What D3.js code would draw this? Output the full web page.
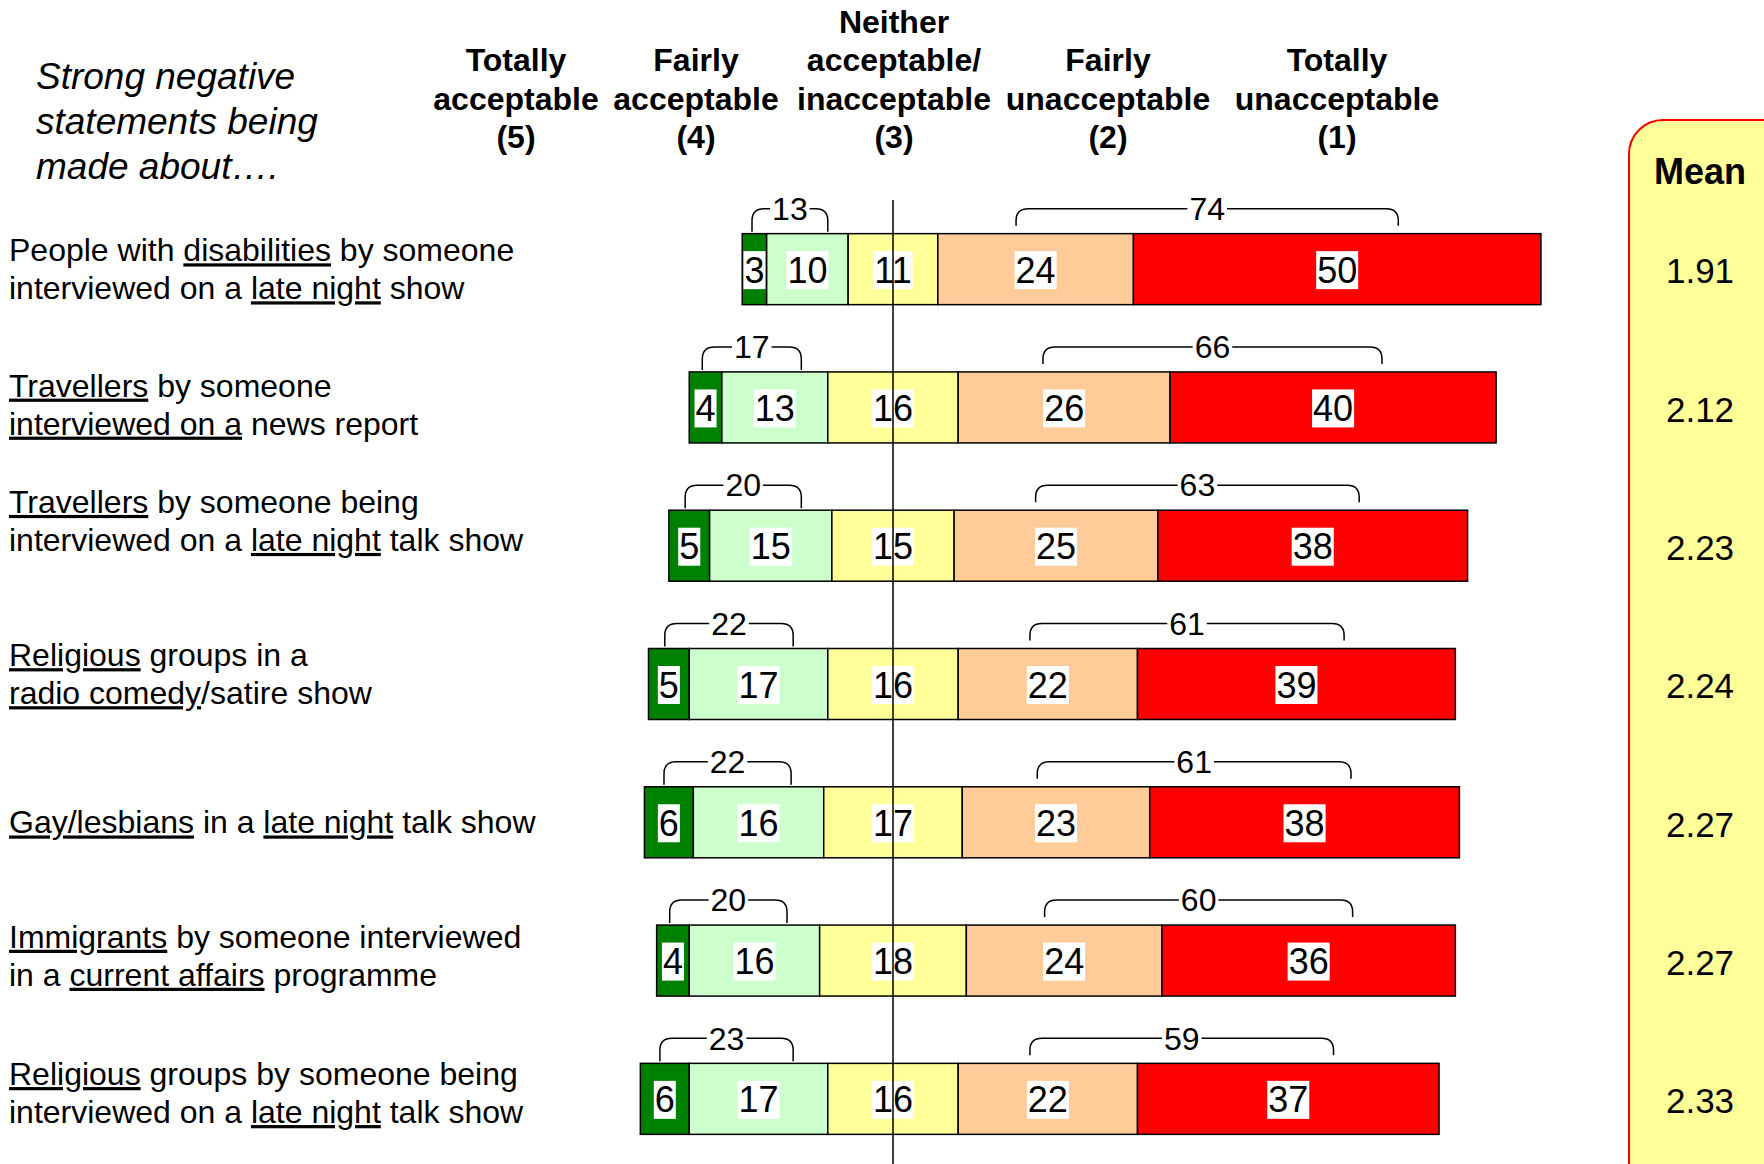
<!DOCTYPE html>
<html>
  <head>
    <meta charset="utf-8">
    <script type="text/javascript" src="https://d3js.org/d3.v7.min.js"></script>
    <title></title>
  </head>
  <style media="screen">
    body { margin: 0; background: #fff; }
    text { font-family: Arial, "Liberation Sans", sans-serif; fill: #000; }
  </style>
  <body>

    <script type="text/javascript">

    // row labels, two lines each, _word_ = underlined
    var categories = [
      ["People with _disabilities_ by someone", "interviewed on a _late night_ show"],
      ["_Travellers_ by someone", "_interviewed on a_ news report"],
      ["_Travellers_ by someone being", "interviewed on a _late night_ talk show"],
      ["_Religious_ groups in a", "_radio comedy_/satire show"],
      ["_Gay/lesbians_ in a _late night_ talk show"],
      ["_Immigrants_ by someone interviewed", "in a _current affairs_ programme"],
      ["_Religious_ groups by someone being", "interviewed on a _late night_ talk show"]
    ];

    var totallyAcc   = [3, 4, 5, 5, 6, 4, 6];
    var fairlyAcc    = [10, 13, 15, 17, 16, 16, 17];
    var neither      = [11, 16, 15, 16, 17, 18, 16];
    var fairlyUnacc  = [24, 26, 25, 22, 23, 24, 22];
    var totallyUnacc = [50, 40, 38, 39, 38, 36, 37];

    var netAcc   = [13, 17, 20, 22, 22, 20, 23];
    var netUnacc = [74, 66, 63, 61, 61, 60, 59];
    var means    = ["1.91", "2.12", "2.23", "2.24", "2.27", "2.27", "2.33"];

    var headers = [
      ["Totally", "acceptable", "(5)"],
      ["Fairly", "acceptable", "(4)"],
      ["Neither", "acceptable/", "inacceptable", "(3)"],
      ["Fairly", "unacceptable", "(2)"],
      ["Totally", "unacceptable", "(1)"]
    ];
    var intro = ["Strong negative", "statements being", "made about…."];

    var colors = ["#008000", "#ccffcc", "#ffff99", "#ffcc99", "#ff0000"];

    var W = 1764, H = 1164;
    var headerX = [516, 696, 894, 1108, 1337];
    // labels were nudged by hand in the original
    var labelShift = [0, -3, -25, -10, 0, -5, -6];
    var barH = 71;

    var svg = d3.select("body").append("svg")
        .attr("width", W)
        .attr("height", H);

    var x = d3.scaleLinear().domain([-50, 50]).range([485.5, 1300.5]);
    var y = d3.scaleBand().domain(d3.range(categories.length)).range([200, 1168]);

    // mean panel
    svg.append("rect")
        .attr("x", 1629).attr("y", 120)
        .attr("width", 200).attr("height", 1100)
        .attr("rx", 34)
        .attr("fill", "#ffff99")
        .attr("stroke", "#ff0000")
        .attr("stroke-width", 2);

    svg.append("text")
        .attr("x", 1700).attr("y", 171).attr("dy", "0.35em")
        .attr("text-anchor", "middle")
        .style("font-size", "36px").style("font-weight", "bold")
        .text("Mean");

    // intro text
    svg.append("g").selectAll("text")
      .data(intro).enter().append("text")
        .attr("x", 36)
        .attr("y", function(d, i) { return 76 + i * 45; })
        .attr("dy", "0.35em")
        .style("font-size", "37px").style("font-style", "italic")
        .text(function(d) { return d; });

    // column headers, bottom aligned
    headers.forEach(function(lines, j) {
      var n = lines.length;
      svg.append("g").selectAll("text")
        .data(lines).enter().append("text")
          .attr("x", headerX[j])
          .attr("y", function(d, i) { return 137 - (n - 1 - i) * 38.5; })
          .attr("dy", "0.35em")
          .attr("text-anchor", "middle")
          .style("font-size", "32px").style("font-weight", "bold")
          .text(function(d) { return d; });
    });

    // build rows
    var rows = categories.map(function(c, i) {
      var vals = [totallyAcc[i], fairlyAcc[i], neither[i], fairlyUnacc[i], totallyUnacc[i]];
      var offset = vals[0] + vals[1] + vals[2] / 2;
      var acc = -offset;
      var segs = vals.map(function(v, k) {
        var s = {x0: acc, x1: acc + v, v: v, k: k};
        acc += v;
        return s;
      });
      return {i: i, label: c, segs: segs};
    });

    var row = svg.selectAll(".row")
      .data(rows).enter().append("g")
        .attr("class", "row")
        .attr("transform", function(d) {
          return "translate(0," + (y(d.i) + y.bandwidth() / 2) + ")";
        });

    row.selectAll("rect.seg")
      .data(function(d) { return d.segs; }).enter().append("rect")
        .attr("class", "seg")
        .attr("x", function(d) { return x(d.x0); })
        .attr("width", function(d) { return x(d.x1) - x(d.x0); })
        .attr("y", -barH / 2)
        .attr("height", barH)
        .attr("fill", function(d) { return colors[d.k]; })
        .attr("stroke", "#000")
        .attr("stroke-width", 1.5);

    function boxedText(g, tx, ty, txt, size, padX, boxH) {
      var t = g.append("text")
          .attr("x", tx).attr("y", ty).attr("dy", "0.35em")
          .attr("text-anchor", "middle")
          .style("font-size", size + "px")
          .text(txt);
      var bb = t.node().getBBox();
      g.insert("rect", function() { return t.node(); })
          .attr("x", bb.x - padX).attr("width", bb.width + 2 * padX)
          .attr("y", ty - boxH / 2).attr("height", boxH)
          .attr("fill", "#fff");
    }

    // segment values
    row.each(function(d) {
      var g = d3.select(this);
      d.segs.forEach(function(s) {
        var lg = g.append("g");
        boxedText(lg, x((s.x0 + s.x1) / 2), 1, s.v, 36, 1, 38);
      });
    });

    // vertical reference line (middle of neutral), over the bars
    svg.append("line")
        .attr("x1", x(0)).attr("x2", x(0))
        .attr("y1", 200).attr("y2", H)
        .attr("stroke", "#000").attr("stroke-width", 1.5);

    // brackets
    function bracket(g, xa, xb, yt, yb, lab) {
      var r = 12;
      g.append("path")
          .attr("d", "M" + xa + "," + yb + " L" + xa + "," + (yt + r) +
                " Q" + xa + "," + yt + " " + (xa + r) + "," + yt +
                " L" + (xb - r) + "," + yt +
                " Q" + xb + "," + yt + " " + xb + "," + (yt + r) +
                " L" + xb + "," + yb)
          .attr("fill", "none")
          .attr("stroke", "#000")
          .attr("stroke-width", 1.5);
      var lg = g.append("g");
      boxedText(lg, (xa + xb) / 2, yt, lab, 32, 2, 30);
    }

    row.each(function(d) {
      var g = d3.select(this);
      var s = d.segs;
      var top = -barH / 2;
      var la = x(s[0].x0 + 0.4 * s[0].v);
      var lb = x(s[1].x1 - 0.25 * s[1].v);
      var ra = x(s[3].x0 + 0.4 * s[3].v);
      var rb = x(s[4].x1 - 0.35 * s[4].v);
      bracket(g, la, lb, top - 25, top - 2, netAcc[d.i]);
      bracket(g, ra, rb, top - 25, top - 8, netUnacc[d.i]);
    });

    // row labels with underlined words
    row.each(function(d) {
      var g = d3.select(this);
      var n = d.label.length;
      d.label.forEach(function(line, li) {
        var t = g.append("text")
            .attr("x", 9)
            .attr("y", (li - (n - 1) / 2) * 38 + labelShift[d.i])
            .attr("dy", "0.35em")
            .style("font-size", "32px");
        line.split("_").forEach(function(part, pi) {
          if (!part) return;
          t.append("tspan")
              .style("text-decoration", pi % 2 ? "underline" : "none")
              .text(part);
        });
      });
    });

    // mean values
    row.append("text")
        .attr("x", 1700).attr("y", 2).attr("dy", "0.35em")
        .attr("text-anchor", "middle")
        .style("font-size", "35px")
        .text(function(d) { return means[d.i]; });

    </script>

  </body>
</html>
